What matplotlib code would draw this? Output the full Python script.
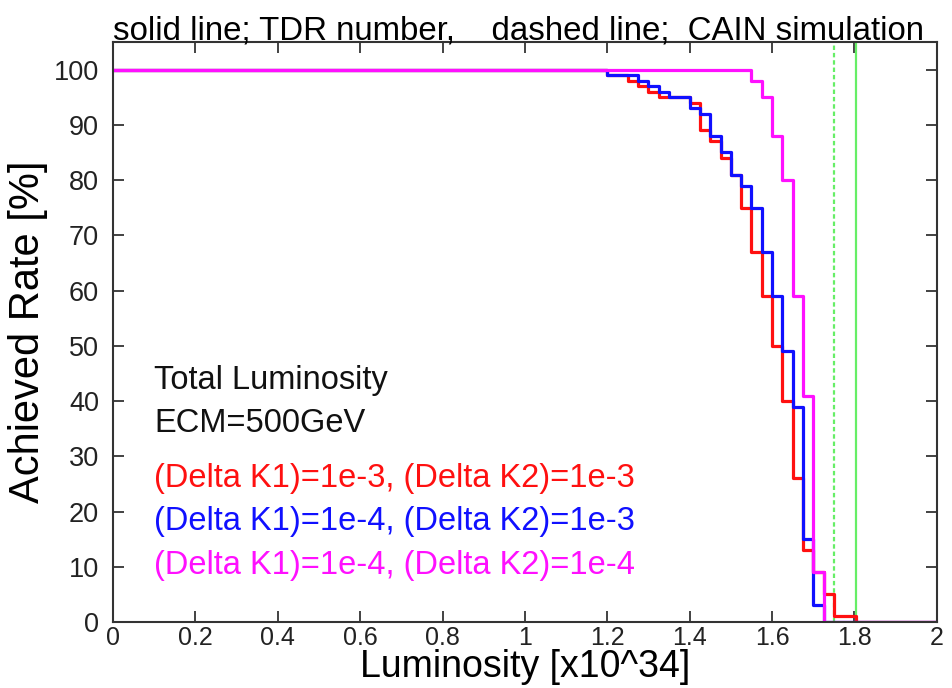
import matplotlib
matplotlib.use("Agg")
import matplotlib.pyplot as plt

plt.rcParams['font.family'] = ['Liberation Sans', 'DejaVu Sans']

# 阶梯曲线数据 (x 为台阶起点, y 为该台阶的达成率)
red_x = [0, 1.20, 1.25, 1.275, 1.30, 1.325, 1.40, 1.425, 1.45, 1.475, 1.50, 1.525,
         1.55, 1.575, 1.60, 1.625, 1.65, 1.675, 1.70, 1.725, 1.75, 1.805, 2.0]
red_y = [100, 99, 98, 97, 96, 95, 94, 89, 87, 84, 81, 75,
         67, 59, 50, 40, 26, 13, 9, 5, 1, 0, 0]

blue_x = [0, 1.20, 1.275, 1.30, 1.325, 1.35, 1.40, 1.425, 1.45, 1.475, 1.50, 1.525,
          1.55, 1.575, 1.60, 1.625, 1.65, 1.675, 1.70, 1.725, 2.0]
blue_y = [100, 99, 98, 97, 96, 95, 93, 92, 88, 85, 81, 79,
          75, 67, 59, 49, 39, 15, 3, 0, 0]

magenta_x = [0, 1.55, 1.575, 1.60, 1.625, 1.65, 1.675, 1.70, 1.725, 2.0]
magenta_y = [100, 98, 95, 88, 80, 59, 41, 9, 0, 0]

# 绿色竖线: 虚线为 CAIN 模拟, 实线为 TDR 数值
cain_lum = 1.75
tdr_lum = 1.805

labels = ["(Delta K1)=1e-3, (Delta K2)=1e-3",
          "(Delta K1)=1e-4, (Delta K2)=1e-3",
          "(Delta K1)=1e-4, (Delta K2)=1e-4"]
colors = ["#ff1010", "#1010ff", "#ff10ff"]

fig = plt.figure(figsize=(9.52, 6.88), dpi=100)
ax = fig.add_axes([0.1187, 0.0959, 0.8653, 0.8431])

green = "#66ee66"
ax.axvline(cain_lum, color=green, lw=1.6, linestyle=(0, (2, 1.3)))
ax.axvline(tdr_lum, color=green, lw=1.6)

ax.step(red_x, red_y, where='post', color=colors[0], lw=2.3)
ax.step(blue_x, blue_y, where='post', color=colors[1], lw=2.3)
ax.step(magenta_x, magenta_y, where='post', color=colors[2], lw=2.3)

ax.set_xlim(0, 2)
ax.set_ylim(0, 105)
ax.set_xticks([0, 0.2, 0.4, 0.6, 0.8, 1, 1.2, 1.4, 1.6, 1.8, 2])
ax.set_xticklabels(["0", "0.2", "0.4", "0.6", "0.8", "1", "1.2", "1.4", "1.6", "1.8", "2"])
ax.set_yticks(range(0, 101, 10))
ax.tick_params(direction='in', length=8, width=1.2, top=True, right=True,
               colors='#222222')
ax.tick_params(axis='y', pad=10, labelsize=19.5)
ax.tick_params(axis='x', pad=3, labelsize=18)
for s in ax.spines.values():
    s.set_linewidth(1.5)
    s.set_color('#333333')

ax.set_xlabel("Luminosity [x10^34]", fontsize=27, labelpad=-1)
ax.set_ylabel("Achieved Rate [%]", fontsize=30, labelpad=4)
ax.set_title("solid line; TDR number,    dashed line;  CAIN simulation",
             fontsize=23.8, pad=2, loc='left')

ax.text(0.1, 43.8, "Total Luminosity", fontsize=23.5, va='center', color='#111111')
ax.text(0.1, 36.0, "ECM=500GeV", fontsize=23.5, va='center', color='#111111')
for i, lab in enumerate(labels):
    ax.text(0.1, 26.0 - 7.85 * i, lab, fontsize=23.5, va='center', color=colors[i])

fig.savefig("out.png", dpi=100)
